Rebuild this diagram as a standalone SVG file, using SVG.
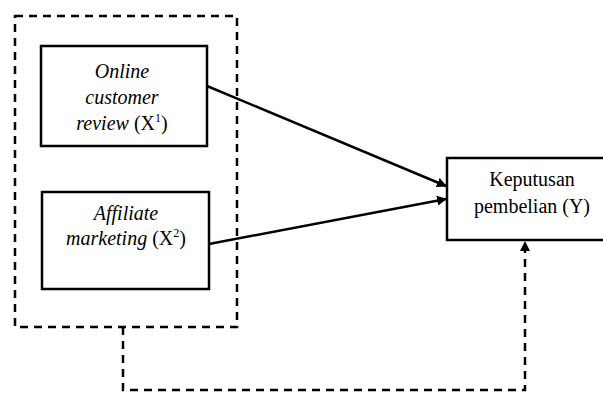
<svg xmlns="http://www.w3.org/2000/svg" width="603" height="394" viewBox="0 0 603 394">
<style>
.box{fill:#fff;stroke:#000;stroke-width:2.5}
.dash{fill:none;stroke:#000;stroke-width:2.5;stroke-dasharray:8,6}
.line{fill:none;stroke:#000;stroke-width:2.5}
text{font-family:"Liberation Serif","Times New Roman",serif;font-size:20px;fill:#000;text-anchor:middle}
.it{font-style:italic}
</style>
<defs>
<marker id="ah" markerWidth="10" markerHeight="10" refX="9" refY="5" orient="auto" markerUnits="userSpaceOnUse">
<path d="M0,0 L10,5 L0,10 Z" fill="#000"/>
</marker>
</defs>
<g id="group-x">
<rect class="dash" x="15" y="16" width="222" height="311"/>
</g>
<g id="node-x1">
<rect class="box" x="41" y="46" width="166" height="100"/>
<text class="it" x="122" y="78">Online</text>
<text class="it" x="122" y="104">customer</text>
<text x="122" y="130"><tspan class="it">review</tspan> (X<tspan font-size="12" dy="-8">1</tspan><tspan dy="8">)</tspan></text>
</g>
<g id="node-x2">
<rect class="box" x="42" y="192" width="167" height="97"/>
<text class="it" x="126" y="220">Affiliate</text>
<text x="126" y="245"><tspan class="it">marketing</tspan> (X<tspan font-size="12" dy="-8">2</tspan><tspan dy="8">)</tspan></text>
</g>
<g id="node-y">
<rect class="box" x="447" y="158" width="160" height="82"/>
<text x="532" y="186">Keputusan</text>
<text x="532" y="213">pembelian (Y)</text>
</g>
<g id="connectors">
<line class="line" x1="207" y1="86" x2="446" y2="186" marker-end="url(#ah)"/>
<line class="line" x1="209" y1="244" x2="446" y2="199" marker-end="url(#ah)"/>
<polyline class="dash" points="123,327 123,390 525,390 525,242" marker-end="url(#ah)"/>
</g>
</svg>
